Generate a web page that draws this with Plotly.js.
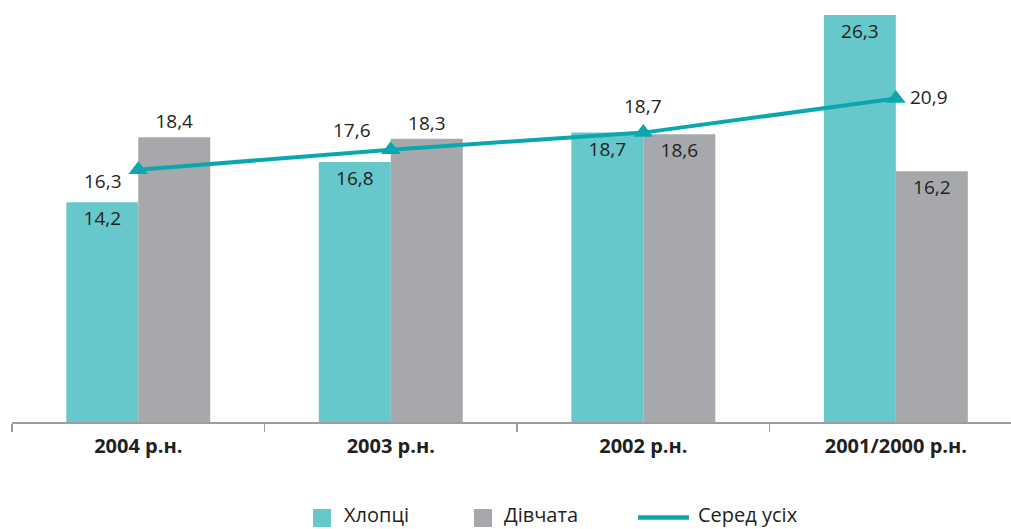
<!DOCTYPE html>
<html>
<head>
<meta charset="utf-8">
<script src="https://cdn.plot.ly/plotly-3.0.1.min.js"></script>
<style>html,body{margin:0;padding:0;background:#fff}#chart{width:1011px;height:529px}</style>
</head>
<body>
<div id="chart"></div>
<script>
var categories = ["2004 р.н.", "2003 р.н.", "2002 р.н.", "2001/2000 р.н."];
var boys = [14.2, 16.8, 18.7, 26.3];
var girls = [18.4, 18.3, 18.6, 16.2];
var overall = [16.3, 17.6, 18.7, 20.9];
var seriesNames = ["Хлопці", "Дівчата", "Серед усіх"];

var FONT = "Open Sans, Noto Sans, sans-serif";
var TXT = "#231f20";
var C_BOYS = "#67c8cc", C_GIRLS = "#a7a8ac", C_LINE = "#0aa8ae";
function fmt(v){ return v.toFixed(1).replace(".", ","); }

var traceBoys = {
  type: "bar", name: seriesNames[0], x: categories, y: boys,
  marker: {color: C_BOYS},
  text: boys.map(fmt), textposition: "inside", insidetextanchor: "end",
  textangle: 0, constraintext: "none",
  insidetextfont: {family: FONT, size: 19, color: TXT},
  hoverinfo: "none", showlegend: false
};
var traceGirls = {
  type: "bar", name: seriesNames[1], x: categories, y: girls,
  marker: {color: C_GIRLS},
  text: girls.map(fmt), textposition: ["outside", "outside", "inside", "inside"],
  insidetextanchor: "end", textangle: 0, constraintext: "none", cliponaxis: false,
  insidetextfont: {family: FONT, size: 19, color: TXT},
  outsidetextfont: {family: FONT, size: 19, color: TXT},
  hoverinfo: "none", showlegend: false
};
var traceAll = {
  type: "scatter", mode: "lines+markers", name: seriesNames[2],
  x: categories, y: overall,
  line: {color: C_LINE, width: 4},
  marker: {symbol: "triangle-up", size: 17, color: C_LINE},
  cliponaxis: false, hoverinfo: "none", showlegend: false
};

var shifts = [[-35, -11], [-39, 20], [0, 27], [33, 2]];
var annotations = overall.map(function(v, i){
  return {x: categories[i], y: v, xref: "x", yref: "y", text: fmt(v), showarrow: false,
    xshift: shifts[i][0], yshift: shifts[i][1], xanchor: "center", yanchor: "middle",
    font: {family: FONT, size: 19, color: TXT}};
});

// manual legend (pixel positions converted to paper coords)
var PL = 12, PW = 999, PB = 422, PH = 422;
function px(x){ return (x - PL) / PW; }
function py(y){ return (PB - y) / PH; }
var legendShapes = [
  {type: "rect", xref: "paper", yref: "paper", x0: px(313), x1: px(331), y0: py(527), y1: py(509),
    fillcolor: C_BOYS, line: {width: 0}},
  {type: "rect", xref: "paper", yref: "paper", x0: px(474), x1: px(492), y0: py(527), y1: py(509),
    fillcolor: C_GIRLS, line: {width: 0}},
  {type: "line", xref: "paper", yref: "paper", x0: px(638), x1: px(689), y0: py(517.5), y1: py(517.5),
    line: {color: C_LINE, width: 4.5}}
];
var legendX = [343, 503, 697];
seriesNames.forEach(function(n, i){
  annotations.push({xref: "paper", yref: "paper", x: px(legendX[i]), y: py(529), text: n,
    showarrow: false, xanchor: "left", yanchor: "bottom", borderpad: 0,
    font: {family: FONT, size: 20, color: TXT}});
});

var layout = {
  width: 1011, height: 529,
  margin: {l: 12, r: 0, t: 0, b: 107},
  paper_bgcolor: "#fff", plot_bgcolor: "#fff",
  barmode: "group", bargap: 0.43, bargroupgap: 0,
  font: {family: FONT, color: TXT},
  xaxis: {
    type: "category", range: [-0.5, 3.456], tickson: "boundaries",
    showline: true, linecolor: "#9d9d9d", linewidth: 1.5,
    ticks: "outside", ticklen: 8, tickcolor: "#9d9d9d", tickwidth: 1.5,
    showgrid: false, zeroline: false, ticklabelstandoff: 5,
    tickfont: {family: FONT, size: 20, color: TXT, weight: "bold"}
  },
  yaxis: {range: [0, 27.27], visible: false, showgrid: false, zeroline: false},
  showlegend: false,
  shapes: legendShapes,
  annotations: annotations
};

Plotly.newPlot("chart", [traceBoys, traceGirls, traceAll], layout, {displayModeBar: false, staticPlot: true});
</script>
</body>
</html>
